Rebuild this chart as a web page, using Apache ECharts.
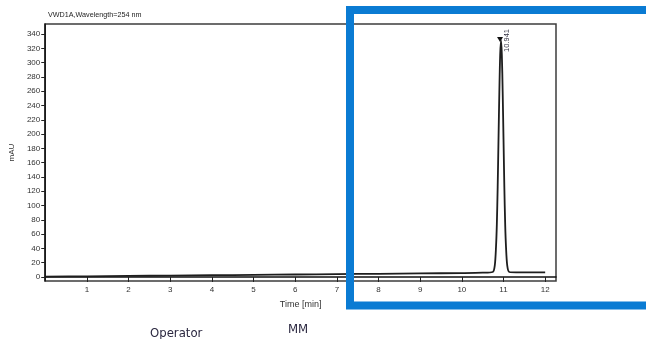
<!DOCTYPE html>
<html>
<head>
<meta charset="utf-8">
<script src="https://cdn.jsdelivr.net/npm/echarts@6/dist/echarts.min.js"></script>
<style>
  html, body { margin: 0; padding: 0; background: #fff; }
  #chart { width: 646px; height: 339px; }
</style>
</head>
<body>
<div id="chart"></div>
<script>
// Detector trace: retention time (min) and absorbance (mAU)
const times = [0, 1, 2, 3, 4, 5, 6, 7, 8, 9, 10, 10.5, 10.74, 10.79, 10.82, 10.84, 10.86, 10.88, 10.90, 10.92,
  10.941, 10.96, 10.98, 11.00, 11.02, 11.04, 11.06, 11.09, 11.14, 11.3, 11.6, 12];
const absorbance = [0.5, 1, 1.5, 2, 2.5, 3, 3.5, 4, 4.5, 5, 5.5, 6, 7, 16, 42, 74, 126, 193, 259, 311,
  331, 311, 259, 193, 126, 74, 42, 16, 7, 6.5, 6.5, 6.5];

const peakTime = 10.941;
const peakHeight = 331;
const peakLabel = '10.941';

const xTicks = [1, 2, 3, 4, 5, 6, 7, 8, 9, 10, 11, 12];
const yTicks = [0, 20, 40, 60, 80, 100, 120, 140, 160, 180, 200, 220, 240, 260, 280, 300, 320, 340];

const traceData = times.map((t, i) => [t, absorbance[i]]);

const chart = echarts.init(document.getElementById('chart'));
const tickFont = { fontFamily: 'Liberation Sans', fontSize: 8, color: '#333' };

chart.setOption({
  animation: false,
  backgroundColor: '#fff',
  title: [
    { text: 'VWD1A,Wavelength=254 nm', left: 43, top: 7,
      textStyle: { fontFamily: 'Liberation Sans', fontSize: 7.2, fontWeight: 'normal', color: '#222' } },
    { text: 'Operator', left: 145, top: 322,
      textStyle: { fontFamily: 'DejaVu Sans Condensed', fontSize: 13, fontWeight: 'normal', color: '#2b2840' } },
    { text: 'MM', left: 283, top: 318,
      textStyle: { fontFamily: 'DejaVu Sans Condensed', fontSize: 13, fontWeight: 'normal', color: '#2b2840' } }
  ],
  grid: {
    left: 44, top: 24, right: 90, bottom: 58,
    show: true, borderColor: '#3c3c3c', borderWidth: 1.5, backgroundColor: '#fff'
  },
  xAxis: {
    type: 'value', min: 0, max: 12.26,
    name: 'Time [min]', nameLocation: 'middle', nameGap: 19,
    nameTextStyle: { fontFamily: 'Liberation Sans', fontSize: 9, color: '#333' },
    axisLine: { lineStyle: { color: '#111', width: 1.5 } },
    axisTick: { show: true, length: 5, customValues: xTicks, lineStyle: { color: '#222' } },
    axisLabel: Object.assign({ customValues: xTicks, margin: 5 }, tickFont),
    splitLine: { show: false }
  },
  yAxis: {
    type: 'value', min: -5.6, max: 354,
    name: 'mAU', nameLocation: 'middle', nameGap: 28, nameRotate: 90,
    nameTextStyle: { fontFamily: 'Liberation Sans', fontSize: 8, color: '#333' },
    axisLine: { show: true, lineStyle: { color: '#111', width: 1.5 } },
    axisTick: { show: true, length: 4, customValues: yTicks, lineStyle: { color: '#222' } },
    axisLabel: Object.assign({ customValues: yTicks, margin: 5 }, tickFont),
    splitLine: { show: false }
  },
  series: [{
    type: 'line',
    data: traceData,
    showSymbol: false,
    smooth: 0.3,
    lineStyle: { color: '#1e1e1e', width: 1.8 },
    markPoint: {
      silent: true,
      data: [
        { coord: [peakTime, peakHeight], symbol: 'triangle', symbolRotate: 180, symbolSize: [6, 5],
          symbolOffset: [-1, -1], itemStyle: { color: '#111' }, label: { show: false } },
        { coord: [peakTime, peakHeight], symbol: 'rect', symbolSize: 1, symbolOffset: [6, 0],
          itemStyle: { color: 'rgba(0,0,0,0)' },
          label: { show: true, position: 'inside', rotate: 90, formatter: peakLabel,
            fontFamily: 'Liberation Sans', fontSize: 7.5, color: '#334' } }
      ]
    }
  }],
  graphic: [{
    type: 'rect', z: 100, silent: true,
    shape: { x: 350, y: 10, width: 420, height: 295.5 },
    style: { fill: 'none', stroke: '#0a7bd3', lineWidth: 8 }
  }]
});
</script>
</body>
</html>
